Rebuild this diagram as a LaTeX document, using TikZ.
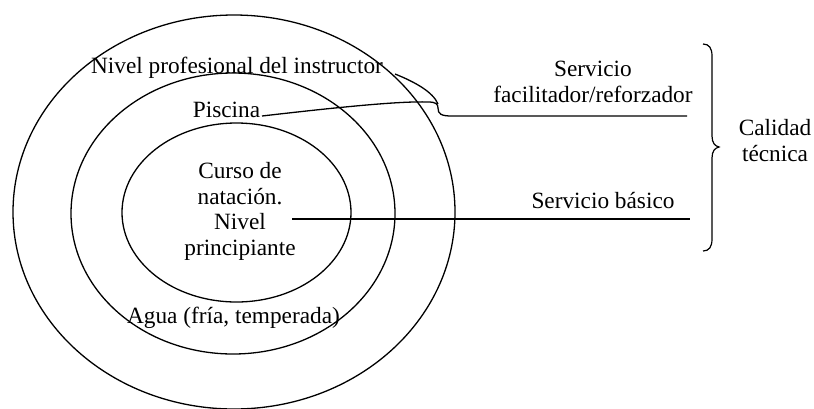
\documentclass[tikz,border=0pt]{standalone}
\usepackage{fontspec}
\setmainfont{Liberation Serif}
\usepackage{tikz}

\tikzset{
  label text/.style={inner sep=0pt, font=\fontsize{23.3}{25.5}\selectfont},
  ring/.style={line width=1.3pt},
  link/.style={line width=1.3pt}
}

\begin{document}
\begin{tikzpicture}[x=1pt,y=-1pt]
\useasboundingbox (0,0) rectangle (814,408);

% Rings of the service
\draw[ring] (234,212) ellipse (221 and 197);
\draw[ring] (233,213.5) ellipse (162 and 140.5);
\draw[ring] (236.5,212.5) ellipse (114.5 and 89.5);

% Texts in the rings (base = last line)
\node[label text, anchor=base] (instructor) at (237,73) {Nivel profesional del instructor};
\node[label text, anchor=base] (piscina) at (226.5,117) {Piscina};
\node[label text, anchor=base, align=center] (curso) at (240,255) {Curso de\\natación.\\Nivel\\principiante};
\node[label text, anchor=base] (agua) at (233.5,323) {Agua (fría, temperada)};

% Texts on the right
\node[label text, anchor=base, align=center] (facilitador) at (593,102) {Servicio\\facilitador/reforzador};
\node[label text, anchor=base] (basico) at (603,208) {Servicio básico};
\node[label text, anchor=base, align=center] (calidad) at (775,161) {Calidad\\técnica};

% Line ends
\coordinate (instr end) at (395,74);
\coordinate (pisc start) at (262,116);
\coordinate (join) at (438,108);
\coordinate (fac end) at (687,116);
\coordinate (bas start) at (292,219);
\coordinate (bas end) at (690,219);

% Connectors
\draw[link] (instr end) .. controls (415,82) and (433,92) .. (438,104);
\draw[link] (pisc start) .. controls (340,107) and (400,101) .. (428,102)
  .. controls (436,102) and (438,104) .. (join)
  .. controls (438,114) and (441,116) .. (452,116) -- (fac end);
\draw[link] (bas start) -- (bas end);

% Brace
\draw[line width=1.2pt] (703,44) .. controls (709,44) and (712,48) .. (712,56) -- (712,136)
  .. controls (712,143) and (715,146) .. (719,147)
  .. controls (715,148) and (712,151) .. (712,158) -- (712,239)
  .. controls (712,247) and (709,251) .. (703,251);

\end{tikzpicture}
\end{document}
